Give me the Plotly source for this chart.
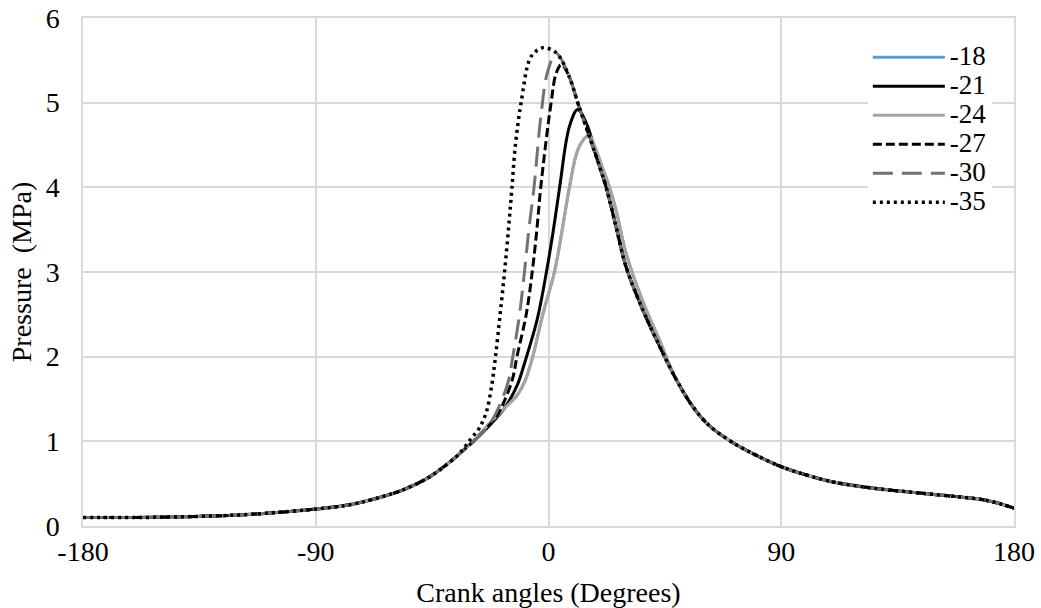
import plotly.graph_objects as go

# Shared compression stroke (all cases identical before ignition)
COMP_ANG = [-180, -160, -140, -120, -105, -90, -77, -65, -56, -46, -36]
COMP_P = [0.10, 0.10, 0.11, 0.13, 0.16, 0.20, 0.25, 0.34, 0.43, 0.58, 0.81]

# Shared expansion stroke
EXP_ANG = [8.1, 11.3, 15.8, 19.7, 22.3, 26, 30, 36.5, 43, 49.4, 55.8, 62, 71, 80, 90,
           100, 110, 120, 130, 140, 150, 160, 168, 175, 180]
EXP_P = [5.30, 5.00, 4.60, 4.25, 4.00, 3.55, 3.06, 2.55, 2.12, 1.73, 1.41, 1.19, 0.99, 0.84, 0.70,
         0.60, 0.52, 0.47, 0.43, 0.40, 0.37, 0.34, 0.31, 0.26, 0.21]

# Combustion window per ignition timing
ANG_35 = [-33, -30, -26.7, -24, -22, -20.5, -18.7, -17, -15.5, -14.2, -12.8, -10.6, -7.3, -4.8, -2.0, 0.8, 3.6]
P_35 = [0.91, 1.03, 1.16, 1.35, 1.65, 2.00, 2.50, 3.00, 3.50, 3.97, 4.50, 5.00, 5.51, 5.61, 5.65, 5.63, 5.57]

ANG_30 = [-32, -29, -24, -20.2, -15.7, -13.8, -11.2, -9.3, -7.6, -5.6, -2.8, -0.3, 3.0]
P_30 = [0.92, 1.00, 1.15, 1.34, 1.69, 2.00, 2.50, 3.00, 3.50, 4.00, 4.88, 5.37, 5.58]

ANG_27 = [-32, -29, -24, -20, -17, -13.8, -12.2, -8.6, -6.3, -4.5, -3.0, 1.0, 3.0, 5.0]
P_27 = [0.92, 1.00, 1.15, 1.30, 1.48, 1.75, 2.00, 2.50, 3.00, 3.50, 4.00, 5.00, 5.35, 5.45]

ANG_21 = [-32, -29, -24, -20, -16, -12, -9.3, -4.3, -0.8, 1.9, 4.3, 8.1, 11.3, 14.6]
P_21 = [0.92, 1.00, 1.15, 1.28, 1.44, 1.67, 1.92, 2.45, 3.00, 3.50, 4.00, 4.72, 4.92, 4.76]

ANG_24 = [-32, -29, -24.1, -16.4, -12, -9, -6.1, -2.2, 2.3, 5.3, 8.1, 11.3, 14.6, 15.7, 18.4,
          21.6, 23.6, 26.2, 30, 36.5, 43]
P_24 = [0.92, 1.00, 1.17, 1.41, 1.55, 1.72, 2.00, 2.50, 3.00, 3.50, 4.00, 4.44, 4.60, 4.62, 4.44,
        4.17, 4.00, 3.72, 3.22, 2.65, 2.19]

ANG_18 = ANG_24
P_18 = P_24

LABELS = ["-18", "-21", "-24", "-27", "-30", "-35"]
X_TICKS = [-180, -90, 0, 90, 180]
Y_TICKS = [0, 1, 2, 3, 4, 5, 6]


def build(ang, p, exp_gap=2.0):
    last = ang[-1]
    xs = COMP_ANG + ang + [a for a in EXP_ANG if a > last + exp_gap]
    ys = COMP_P + p + [v for a, v in zip(EXP_ANG, EXP_P) if a > last + exp_gap]
    return xs, ys


FONT = "Liberation Serif"
BIG = 28

series = [
    (LABELS[0], ANG_18, P_18, dict(color="#5B9BD5", width=3, dash="solid")),
    (LABELS[1], ANG_21, P_21, dict(color="#000000", width=3, dash="solid")),
    (LABELS[2], ANG_24, P_24, dict(color="#A5A5A5", width=3, dash="solid")),
    (LABELS[3], ANG_27, P_27, dict(color="#000000", width=3, dash="9px,4px")),
    (LABELS[4], ANG_30, P_30, dict(color="#767171", width=3, dash="20px,9px")),
    (LABELS[5], ANG_35, P_35, dict(color="#000000", width=3.5, dash="3px,4px")),
]

fig = go.Figure()
for name, a, p, line in series:
    xs, ys = build(a, p)
    fig.add_trace(go.Scatter(
        x=xs, y=ys, mode="lines",
        name='<span style="font-size:%dpx">%s</span>' % (27, name),
        line=dict(shape="spline", smoothing=1.0, **line)))

grid = "#D9D9D9"
fig.update_layout(
    width=1041, height=608,
    margin=dict(l=83, r=27, t=18, b=82, autoexpand=False),
    paper_bgcolor="white", plot_bgcolor="white",
    font=dict(family=FONT, size=BIG, color="black"),
    showlegend=True,
    legend=dict(x=0.843, y=0.961, xanchor="left", yanchor="top",
                bgcolor="white", font=dict(family=FONT, size=20, color="black"),
                tracegroupgap=0, itemwidth=72),
    xaxis=dict(range=[-180, 180], tickvals=X_TICKS, ticktext=[str(v) for v in X_TICKS],
               showgrid=True, gridcolor=grid, gridwidth=1.5, zeroline=False, automargin=False,
               showline=True, linecolor=grid, linewidth=1.5, mirror=True,
               ticks="", tickfont=dict(family=FONT, size=BIG),
               title=dict(text="Crank angles (Degrees)", font=dict(family=FONT, size=BIG), standoff=16)),
    yaxis=dict(range=[0, 6], tickvals=Y_TICKS, ticktext=[str(v) for v in Y_TICKS],
               showgrid=True, gridcolor=grid, gridwidth=1.5, zeroline=False, automargin=False,
               showline=True, linecolor=grid, linewidth=1.5, mirror=True,
               ticks="", ticklabelstandoff=16, tickfont=dict(family=FONT, size=BIG),
               title=dict(text="Pressure  (MPa)", font=dict(family=FONT, size=BIG), standoff=6)),
)

fig.write_html("out.html")
